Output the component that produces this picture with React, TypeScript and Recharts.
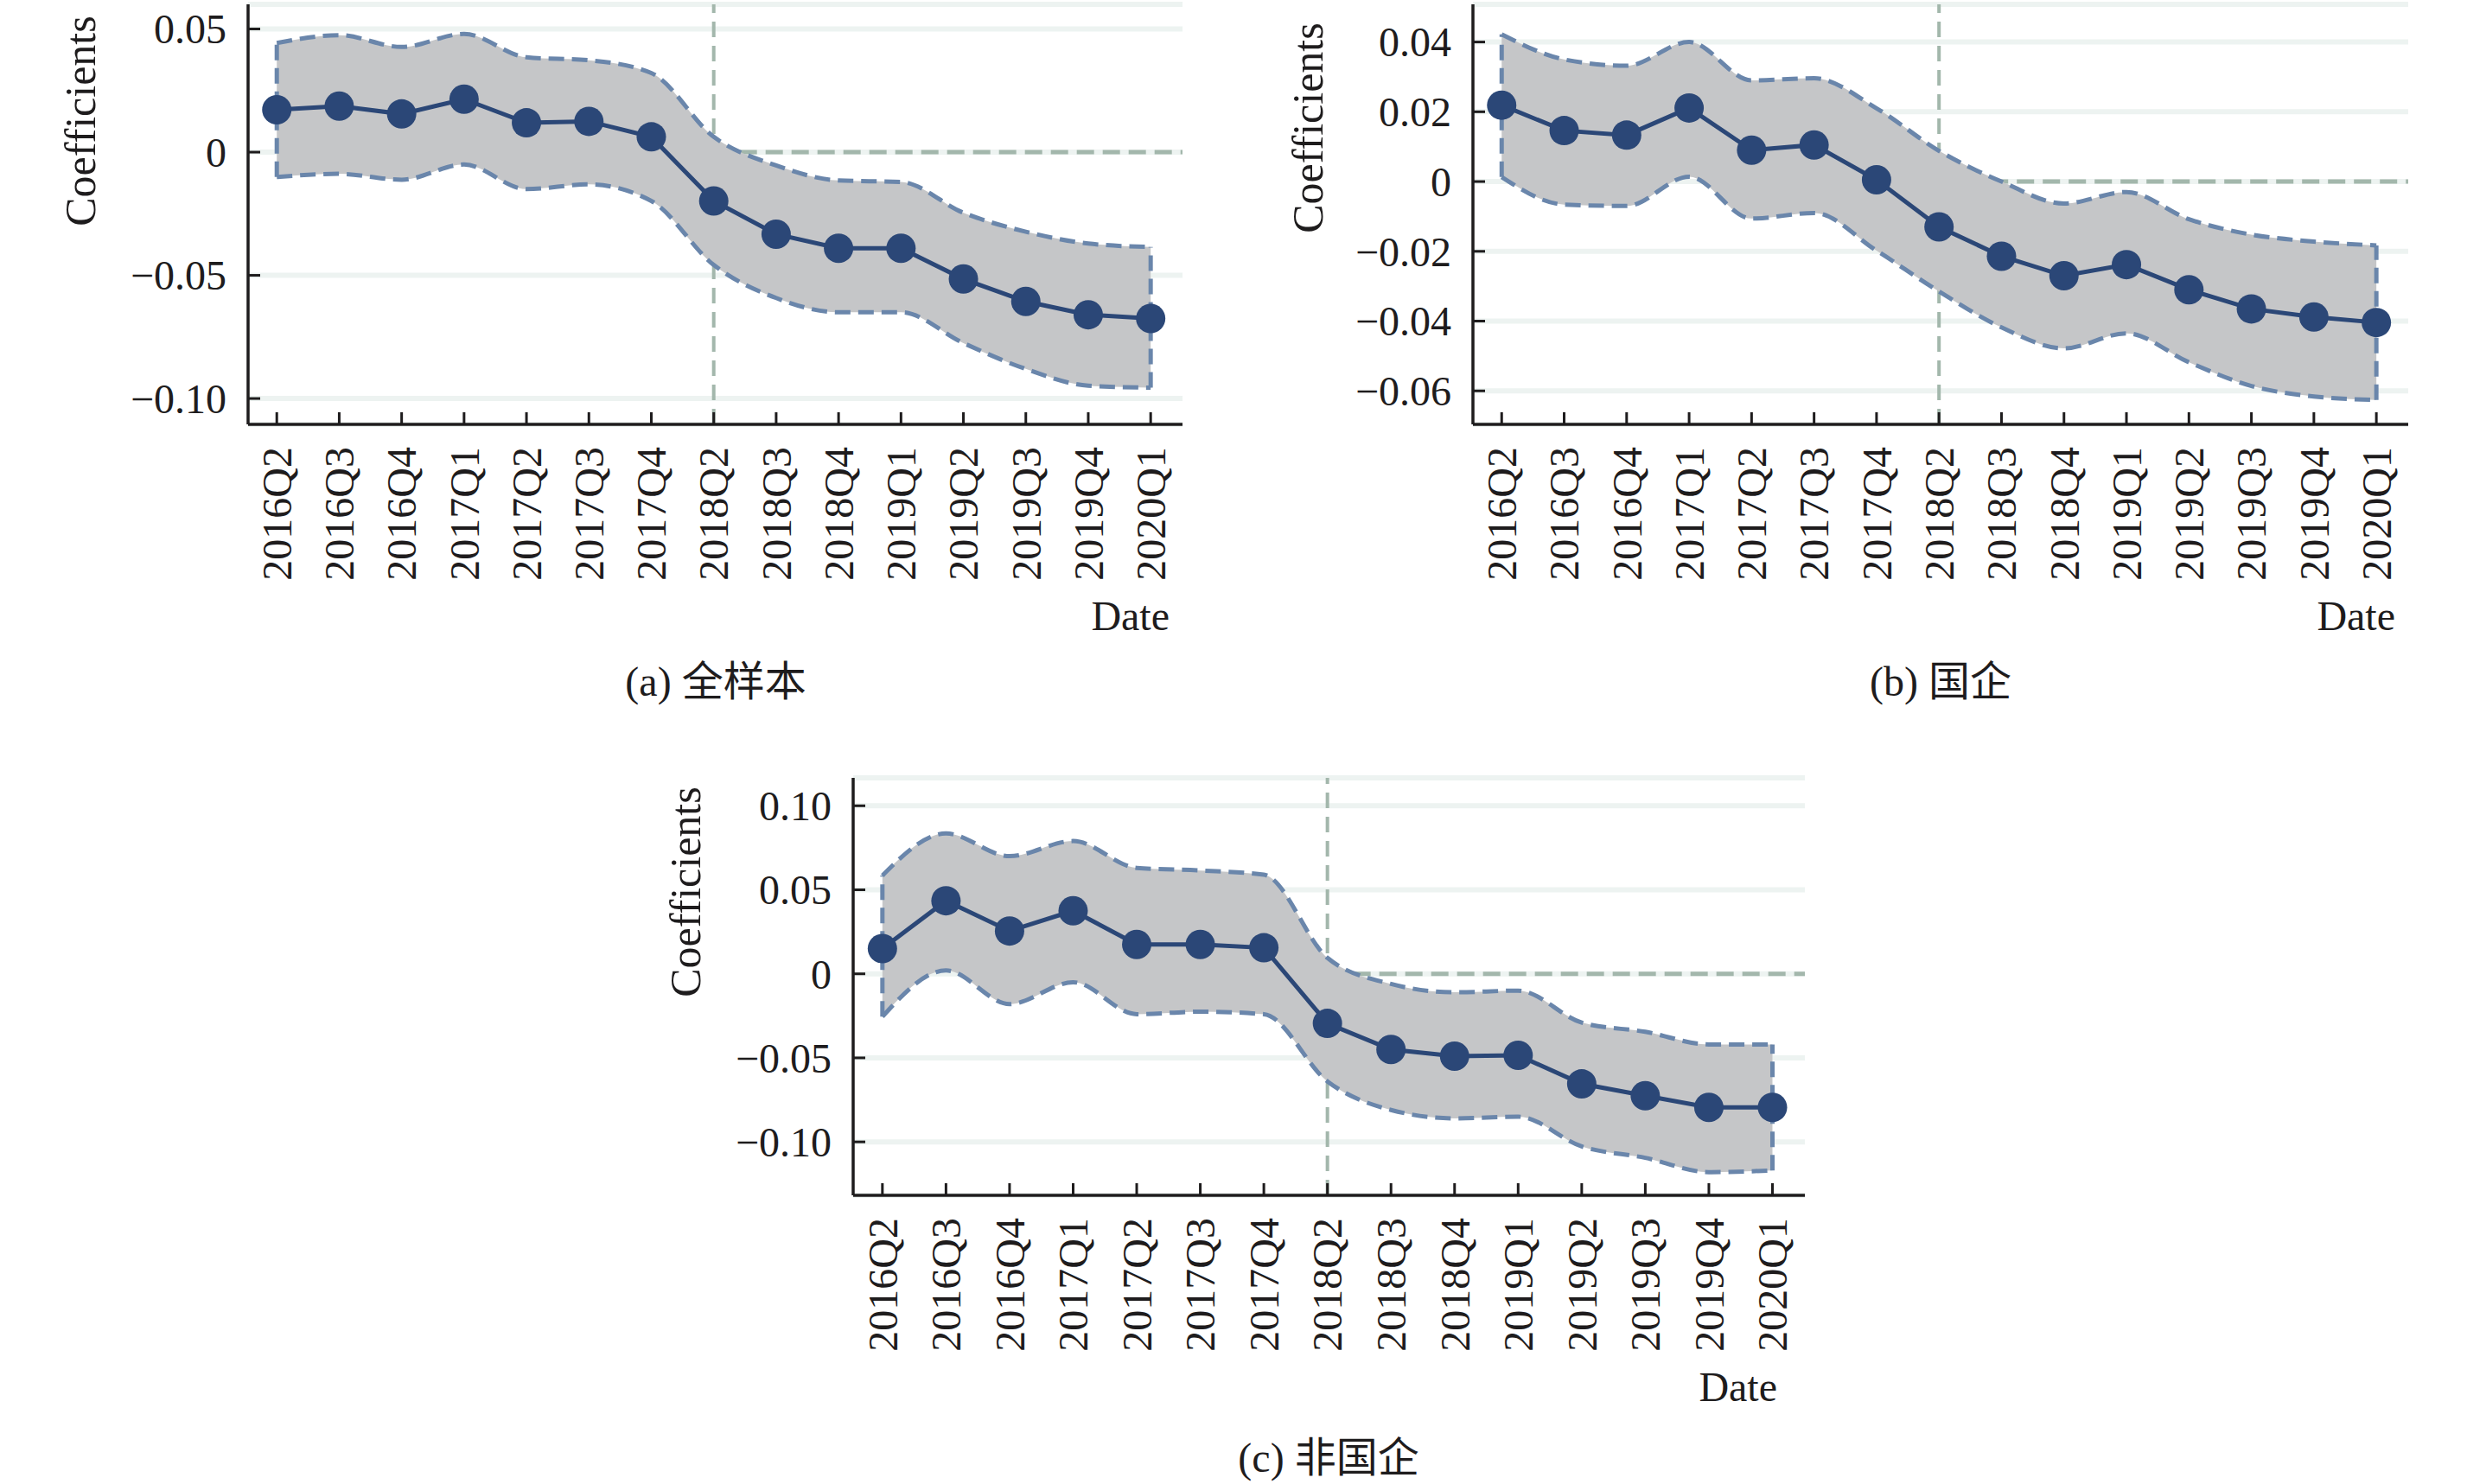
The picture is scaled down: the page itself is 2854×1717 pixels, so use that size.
import React from 'react'
import { ComposedChart, Area, Line, XAxis, YAxis, CartesianGrid, ReferenceLine } from 'recharts'

// quarters relative to the 2018Q1 base period (omitted)
const quarters = ['2016Q2', '2016Q3', '2016Q4', '2017Q1', '2017Q2', '2017Q3', '2017Q4', '2018Q2', '2018Q3', '2018Q4', '2019Q1', '2019Q2', '2019Q3', '2019Q4', '2020Q1']

// (a) full sample
const fullCoef = [0.0172, 0.0187, 0.0155, 0.0215, 0.0119, 0.0125, 0.0062, -0.0198, -0.0333, -0.039, -0.039, -0.0515, -0.0606, -0.066, -0.0675]
const fullUpper = [0.0443, 0.0475, 0.0427, 0.048, 0.0385, 0.0373, 0.0321, 0.0062, -0.0054, -0.0115, -0.0121, -0.0246, -0.0323, -0.0371, -0.0385]
const fullLower = [-0.0101, -0.0088, -0.0112, -0.005, -0.015, -0.0131, -0.0198, -0.0458, -0.0592, -0.065, -0.065, -0.0775, -0.088, -0.0948, -0.0956]

// (b) state-owned
const soeCoef = [0.0219, 0.0146, 0.0133, 0.0211, 0.009, 0.0105, 0.0005, -0.013, -0.0214, -0.027, -0.0238, -0.031, -0.0365, -0.0388, -0.0404]
const soeUpper = [0.0422, 0.035, 0.0332, 0.04, 0.029, 0.0296, 0.021, 0.0088, 0.0, -0.0063, -0.003, -0.0108, -0.0152, -0.0172, -0.0183]
const soeLower = [0.0013, -0.0066, -0.007, 0.0014, -0.0106, -0.009, -0.0198, -0.0315, -0.0418, -0.0478, -0.0435, -0.0518, -0.0586, -0.0616, -0.0626]

// (c) non state-owned
const nonCoef = [0.015, 0.0435, 0.0255, 0.0375, 0.0175, 0.0175, 0.0155, -0.0295, -0.045, -0.049, -0.0485, -0.0655, -0.0725, -0.0795, -0.0795]
const nonUpper = [0.0585, 0.0835, 0.07, 0.079, 0.063, 0.0615, 0.059, 0.0095, -0.006, -0.011, -0.01, -0.029, -0.0345, -0.042, -0.042]
const nonLower = [-0.0255, 0.002, -0.018, -0.005, -0.024, -0.0225, -0.024, -0.064, -0.081, -0.086, -0.085, -0.1027, -0.1095, -0.118, -0.117]

const fullTicks = [-0.1, -0.05, 0, 0.05]
const soeTicks = [-0.06, -0.04, -0.02, 0, 0.02, 0.04]
const nonTicks = [-0.1, -0.05, 0, 0.05, 0.1]

const X_MIN = -0.46
const X_MAX = 14.51
const BREAK = 7 // 2018Q2

const NAVY = '#2b4777'
const BAND_FILL = '#c5c6c8'
const BAND_EDGE = '#6a86ab'
const REF = '#a3b7ac'
const GRID = '#edf3f1'
const INK = '#1e1c1d'
const FONT = '"Liberation Serif", "Noto Sans CJK SC", serif'

const build = (coef: number[], lower: number[], upper: number[]) =>
  quarters.map((q, i) => ({ idx: i, q, coef: coef[i], band: [lower[i], upper[i]] }))

const fmt = (v: number) => (v === 0 ? '0' : (v < 0 ? '\u2212' : '') + Math.abs(v).toFixed(2))

function XTick(props: any) {
  const { x, y, payload } = props
  const ty = y + 26
  return (
    <g>
      <line x1={x} y1={y} x2={x} y2={y - 14} stroke={INK} strokeWidth={3} />
      <text x={x} y={ty} dy="0.35em" transform={`rotate(-90 ${x} ${ty})`} textAnchor="end" fontSize={48} fontFamily={FONT} fill={INK}>
        {quarters[payload.value]}
      </text>
    </g>
  )
}

function YTick(props: any) {
  const { x, y, payload } = props
  return (
    <g>
      <line x1={x} y1={y} x2={x + 14} y2={y} stroke={INK} strokeWidth={3} />
      <text x={x - 25} y={y} dy="0.35em" textAnchor="end" fontSize={48} fontFamily={FONT} fill={INK}>
        {fmt(payload.value)}
      </text>
    </g>
  )
}

function Panel({ data, yDomain, yTicks, width, height, margin }: any) {
  const first = data[0]
  const last = data[data.length - 1]
  const edge = { stroke: BAND_EDGE, strokeWidth: 5, strokeDasharray: '18 9' }
  return (
    <ComposedChart width={width} height={height} data={data} margin={margin}>
      <CartesianGrid horizontal vertical={false} stroke={GRID} strokeWidth={6} />
      <XAxis type="number" dataKey="idx" domain={[X_MIN, X_MAX]} ticks={quarters.map((_, i) => i)} interval={0}
        height={30} tickSize={0} tickMargin={0} tickLine={false} tick={<XTick />} allowDataOverflow
        axisLine={{ stroke: INK, strokeWidth: 3.5 }} />
      <YAxis type="number" domain={yDomain} ticks={yTicks} interval={0} width={60} tickSize={0} tickMargin={0}
        tickLine={false} tick={<YTick />} allowDataOverflow axisLine={{ stroke: INK, strokeWidth: 3.5 }} />
      <ReferenceLine x={BREAK} stroke={REF} strokeWidth={4} strokeDasharray="18 10" zIndex={-50} />
      <ReferenceLine segment={[{ x: BREAK, y: 0 }, { x: X_MAX, y: 0 }]} stroke={REF} strokeWidth={5} strokeDasharray="20 10" zIndex={-50} />
      <Area dataKey="band" type="monotone" fill={BAND_FILL} fillOpacity={1} {...edge} isAnimationActive={false} activeDot={false} />
      <ReferenceLine segment={[{ x: first.idx, y: first.band[0] }, { x: first.idx, y: first.band[1] }]} {...edge} />
      <ReferenceLine segment={[{ x: last.idx, y: last.band[0] }, { x: last.idx, y: last.band[1] }]} {...edge} />
      <Line dataKey="coef" type="linear" stroke={NAVY} strokeWidth={5} dot={{ r: 17, fill: NAVY, stroke: NAVY, strokeWidth: 0 }}
        activeDot={false} isAnimationActive={false} />
    </ComposedChart>
  )
}

const txt = { fontFamily: FONT, fill: INK }

export default function App() {
  return (
    <div style={{ position: 'fixed', left: 0, top: 0, width: 2854, height: 1717, background: '#fff' }}>
      <div style={{ position: 'absolute', left: 0, top: 0 }}>
        <Panel data={build(fullCoef, fullLower, fullUpper)} yDomain={[-0.1105, 0.06]} yTicks={fullTicks}
          width={1427} height={860} margin={{ top: 5, left: 227, right: 59, bottom: 339 }} />
      </div>
      <div style={{ position: 'absolute', left: 1427, top: 0 }}>
        <Panel data={build(soeCoef, soeLower, soeUpper)} yDomain={[-0.0696, 0.0508]} yTicks={soeTicks}
          width={1427} height={860} margin={{ top: 5, left: 217, right: 68, bottom: 339 }} />
      </div>
      <div style={{ position: 'absolute', left: 700, top: 860 }}>
        <Panel data={build(nonCoef, nonLower, nonUpper)} yDomain={[-0.1318, 0.1166]} yTicks={nonTicks}
          width={1454} height={857} margin={{ top: 40, left: 227, right: 66, bottom: 304 }} />
      </div>
      <svg width={2854} height={1717} style={{ position: 'absolute', left: 0, top: 0, pointerEvents: 'none' }}>
        <text x={92} y={140} dy="0.35em" transform="rotate(-90 92 140)" textAnchor="middle" fontSize={50} {...txt}>Coefficients</text>
        <text x={1512} y={148} dy="0.35em" transform="rotate(-90 1512 148)" textAnchor="middle" fontSize={50} {...txt}>Coefficients</text>
        <text x={792} y={1032} dy="0.35em" transform="rotate(-90 792 1032)" textAnchor="middle" fontSize={50} {...txt}>Coefficients</text>
        <text x={1353} y={729} textAnchor="end" fontSize={48} {...txt}>Date</text>
        <text x={2771} y={729} textAnchor="end" fontSize={48} {...txt}>Date</text>
        <text x={2056} y={1621} textAnchor="end" fontSize={48} {...txt}>Date</text>
        <text x={828} y={788} dy="0.35em" textAnchor="middle" fontSize={48} {...txt}>(a) 全样本</text>
        <text x={2245} y={788} dy="0.35em" textAnchor="middle" fontSize={48} {...txt}>(b) 国企</text>
        <text x={1537} y={1686} dy="0.35em" textAnchor="middle" fontSize={48} {...txt}>(c) 非国企</text>
      </svg>
    </div>
  )
}
